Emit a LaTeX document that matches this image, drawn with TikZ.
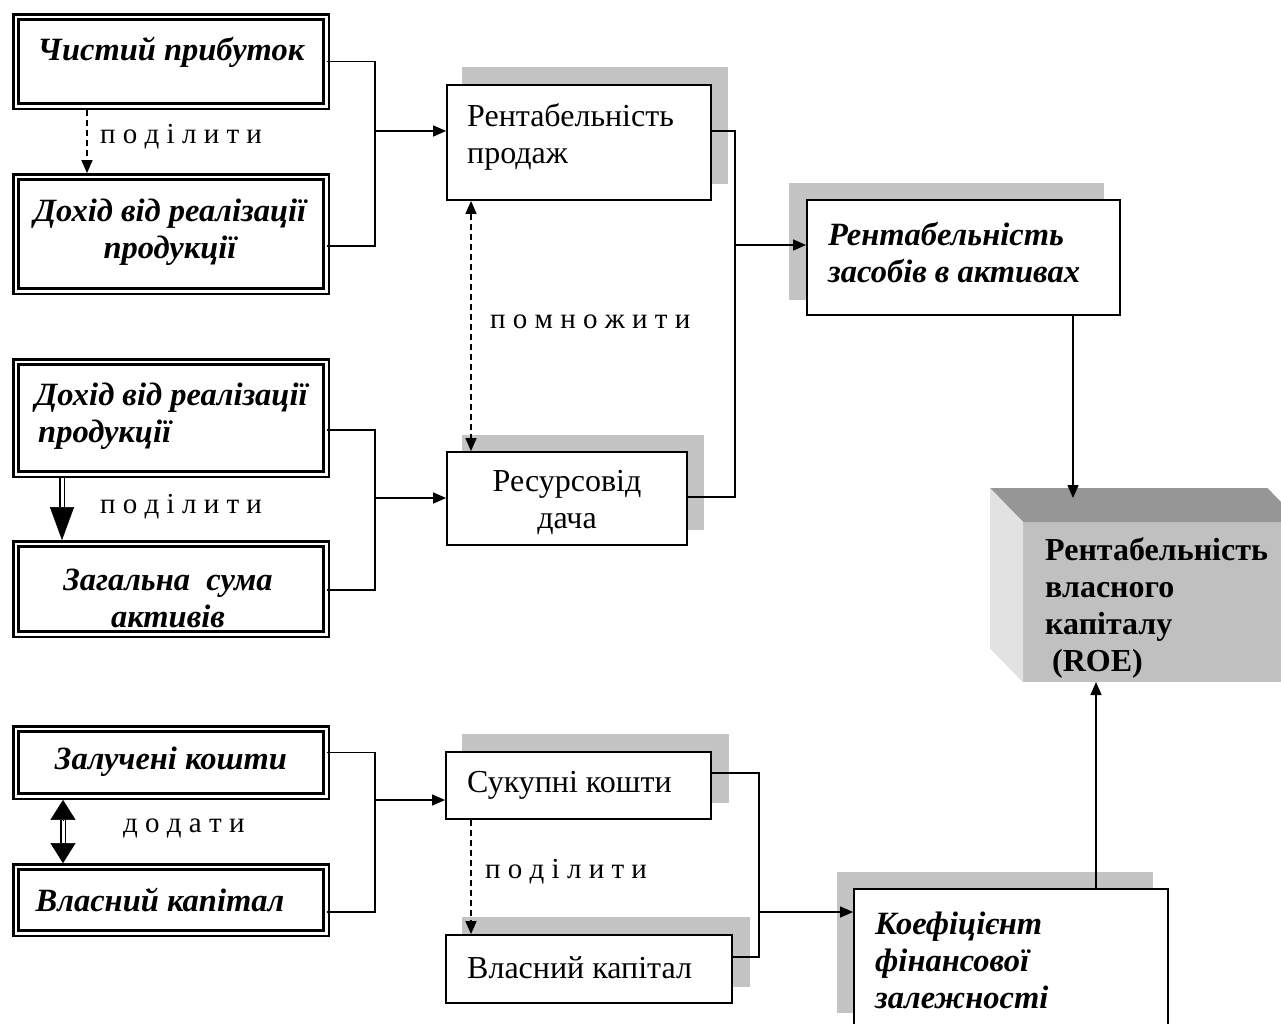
\documentclass[tikz,border=0pt]{standalone}
\usepackage{fontspec}
\setmainfont{Liberation Serif}
\usetikzlibrary{arrows.meta,calc}
\definecolor{shadowgray}{RGB}{196,196,196}
\definecolor{topface}{RGB}{150,150,150}
\definecolor{frontface}{RGB}{192,192,192}
\definecolor{sideface}{RGB}{226,226,226}
\pgfdeclarelayer{background}
\pgfsetlayers{background,main}

\begin{document}
\begin{tikzpicture}[x=1pt,y=-1pt,
  dbox/.style={draw, double, line width=2.4pt, double distance=2.7pt,
    minimum width=310.3pt, inner sep=0pt},
  sbox/.style={draw, line width=1.8pt, fill=white, inner sep=0pt},
  bi/.style={font=\fontsize{32.5}{37}\selectfont\bfseries\itshape, inner sep=0pt},
  rg/.style={font=\fontsize{32}{37}\selectfont, inner sep=0pt},
  bd/.style={font=\fontsize{32}{37}\selectfont\bfseries, inner sep=0pt},
  op/.style={font=\fontsize{29}{32}\selectfont, inner sep=0pt, anchor=west},
  wire/.style={line width=1.4pt},
  arr/.style={wire, -{Triangle[length=13pt,width=11pt]}},
  darr/.style={line width=1.4pt, dash pattern=on 6pt off 4pt,
    -{Triangle[length=13pt,width=11pt]}},
  dline/.style={double, line width=1.2pt, double distance=3pt},
  bigtip/.style={line width=0.5pt, -{Triangle[length=33pt,width=24pt]}, shorten >=2.5pt},
  midtip/.style={line width=0.5pt, -{Triangle[length=20pt,width=25pt]}, shorten >=2.5pt},
]
\useasboundingbox (0,0) rectangle (1281,1023);
\clip (0,0) rectangle (1281,1023);

% source boxes with double frames
\node[dbox, minimum height=89.3pt]  (b1) at (171,61.5) {};
\node[dbox, minimum height=114.3pt] (b2) at (171,234) {};
\node[dbox, minimum height=112.3pt] (b3) at (171,418) {};
\node[dbox, minimum height=90.3pt]  (b4) at (171,589) {};
\node[dbox, minimum height=67.3pt]  (b5) at (171,762.5) {};
\node[dbox, minimum height=66.3pt]  (b6) at (171,900) {};

\node[bi] (t1) at (171,52) {Чистий прибуток};
\node[bi, align=center] (t2) at (170,232) {Дохід від реалізації\\продукції};
\node[bi, align=left, anchor=west] (t3) at (35,416) {Дохід від реалізації\\\hspace*{3pt}продукції};
\node[bi, align=center] (t4) at (168,598) {Загальна\ \ сума\\активів};
\node[bi] (t5) at (171,762) {Залучені кошти};
\node[bi] (t6) at (160,900) {Власний капітал};

% intermediate boxes
\node[sbox, minimum width=264pt, minimum height=115pt] (prod) at (579,142.5) {};
\node[sbox, minimum width=240pt, minimum height=93pt]  (res)  at (567,498.5) {};
\node[sbox, minimum width=313pt, minimum height=115pt] (zas)  at (963.5,257.5) {};
\node[sbox, minimum width=265pt, minimum height=67pt]  (suk)  at (578.5,785.5) {};
\node[sbox, minimum width=286pt, minimum height=68pt]  (vk)   at (589,969) {};
\node[sbox, minimum width=314pt, minimum height=139pt] (koef) at (1011,958.5) {};

\node[rg, align=left, anchor=west] (tp) at (467,137) {Рентабельність\\продаж};
\node[rg, align=center] (tr) at (567,502) {Ресурсовід\\дача};
\node[bi, align=left, anchor=west] (tz) at (828,253) {Рентабельність\\засобів в активах};
\node[rg, anchor=west] (ts) at (467,785) {Сукупні кошти};
\node[rg, anchor=west] (tv) at (467,968) {Власний капітал};
\node[bi, align=left, anchor=west] (tk) at (875,960) {Коефіцієнт\\фінансової\\залежності};

% shadows behind the intermediate boxes
\begin{pgfonlayer}{background}
  \fill[shadowgray] ([shift={(16,-17)}]prod.south west) rectangle ([shift={(16,-17)}]prod.north east);
  \fill[shadowgray] ([shift={(16,-16)}]res.south west)  rectangle ([shift={(16,-16)}]res.north east);
  \fill[shadowgray] ([shift={(-17,-16)}]zas.south west) rectangle ([shift={(-17,-16)}]zas.north east);
  \fill[shadowgray] ([shift={(17,-17)}]suk.south west)  rectangle ([shift={(17,-17)}]suk.north east);
  \fill[shadowgray] ([shift={(17,-17)}]vk.south west)   rectangle ([shift={(17,-17)}]vk.north east);
  \fill[shadowgray] ([shift={(-16,-16)}]koef.south west) rectangle ([shift={(-16,-16)}]koef.north east);
\end{pgfonlayer}

% result block drawn as a box
\node[fill=frontface, inner sep=0pt, minimum width=277pt, minimum height=160pt,
  anchor=north west] (roe) at (1023,522) {};
\fill[topface] (roe.north west) -- ++(-33,-34) -- ($(roe.north east)+(-33,-34)$)
  -- (roe.north east) -- cycle;
\fill[sideface] (roe.north west) -- ++(-33,-34) -- ($(roe.south west)+(-33,-34)$)
  -- (roe.south west) -- cycle;
\node[bd, align=left, anchor=west] (troe) at (1045,608)
  {Рентабельність\\власного\\капіталу\\\hspace*{7pt}(ROE)};
\coordinate (roetop) at (1073,498);
\coordinate (roebot) at (1096,682);

% operation labels
\node[op] (o1) at (100,137) {п о д і л и т и};
\node[op] (o2) at (100,507) {п о д і л и т и};
\node[op] (o3) at (123,828) {д о д а т и};
\node[op] (o4) at (490,322) {п о м н о ж и т и};
\node[op] (o5) at (485,872) {п о д і л и т и};

% junctions
\coordinate (j1) at (375,131);
\coordinate (j2) at (375,498);
\coordinate (j3) at (375,800);
\coordinate (j4) at (735,245);
\coordinate (j5) at (759,912);

% connectors
\draw[wire] (b1.east) -| (j1);
\draw[wire] ([yshift=-12pt]b2.east) -| (j1);
\draw[arr] (j1) -- (j1 -| prod.west);

\draw[wire] ([yshift=-12pt]b3.east) -| (j2);
\draw[wire] ([yshift=-1pt]b4.east) -| (j2);
\draw[arr] (j2) -- (j2 -| res.west);

\draw[wire] ([yshift=10pt]b5.east) -| (j3);
\draw[wire] ([yshift=-12pt]b6.east) -| (j3);
\draw[arr] (j3) -- (j3 -| suk.west);

\draw[wire] ([yshift=11.5pt]prod.east) -| (j4);
\draw[wire] ([yshift=1.5pt]res.east) -| (j4);
\draw[arr] (j4) -- (j4 -| zas.west);

\draw[wire] ([yshift=12.5pt]suk.east) -| (j5);
\draw[wire] ([yshift=12pt]vk.east) -| (j5);
\draw[arr] (j5) -- (j5 -| koef.west);

\draw[arr] (roetop |- zas.south) -- (roetop);
\draw[arr] (roebot |- koef.north) -- (roebot);

% operation arrows
\draw[darr, shorten <=2.5pt, shorten >=2.5pt] ([xshift=-84pt]b1.south) -- ([xshift=-84pt]b2.north);
\draw[darr, {Triangle[length=13pt,width=11pt]}-{Triangle[length=13pt,width=11pt]}]
  ([xshift=-108pt]prod.south) -- ([xshift=-96pt]res.north);
\draw[darr] ([xshift=-107.5pt]suk.south) -- ([xshift=-118pt]vk.north);

\coordinate (h1) at (62,507);
\draw[dline] ([yshift=-2.5pt]b3.south -| h1) -- (h1);
\draw[bigtip] (h1) -- (b4.north -| h1);

\coordinate (h2a) at (63,820);
\coordinate (h2b) at (63,843);
\draw[dline] (h2a) -- (h2b);
\draw[midtip] (h2a) -- (b5.south -| h2a);
\draw[midtip] (h2b) -- (b6.north -| h2a);
\end{tikzpicture}
\end{document}
